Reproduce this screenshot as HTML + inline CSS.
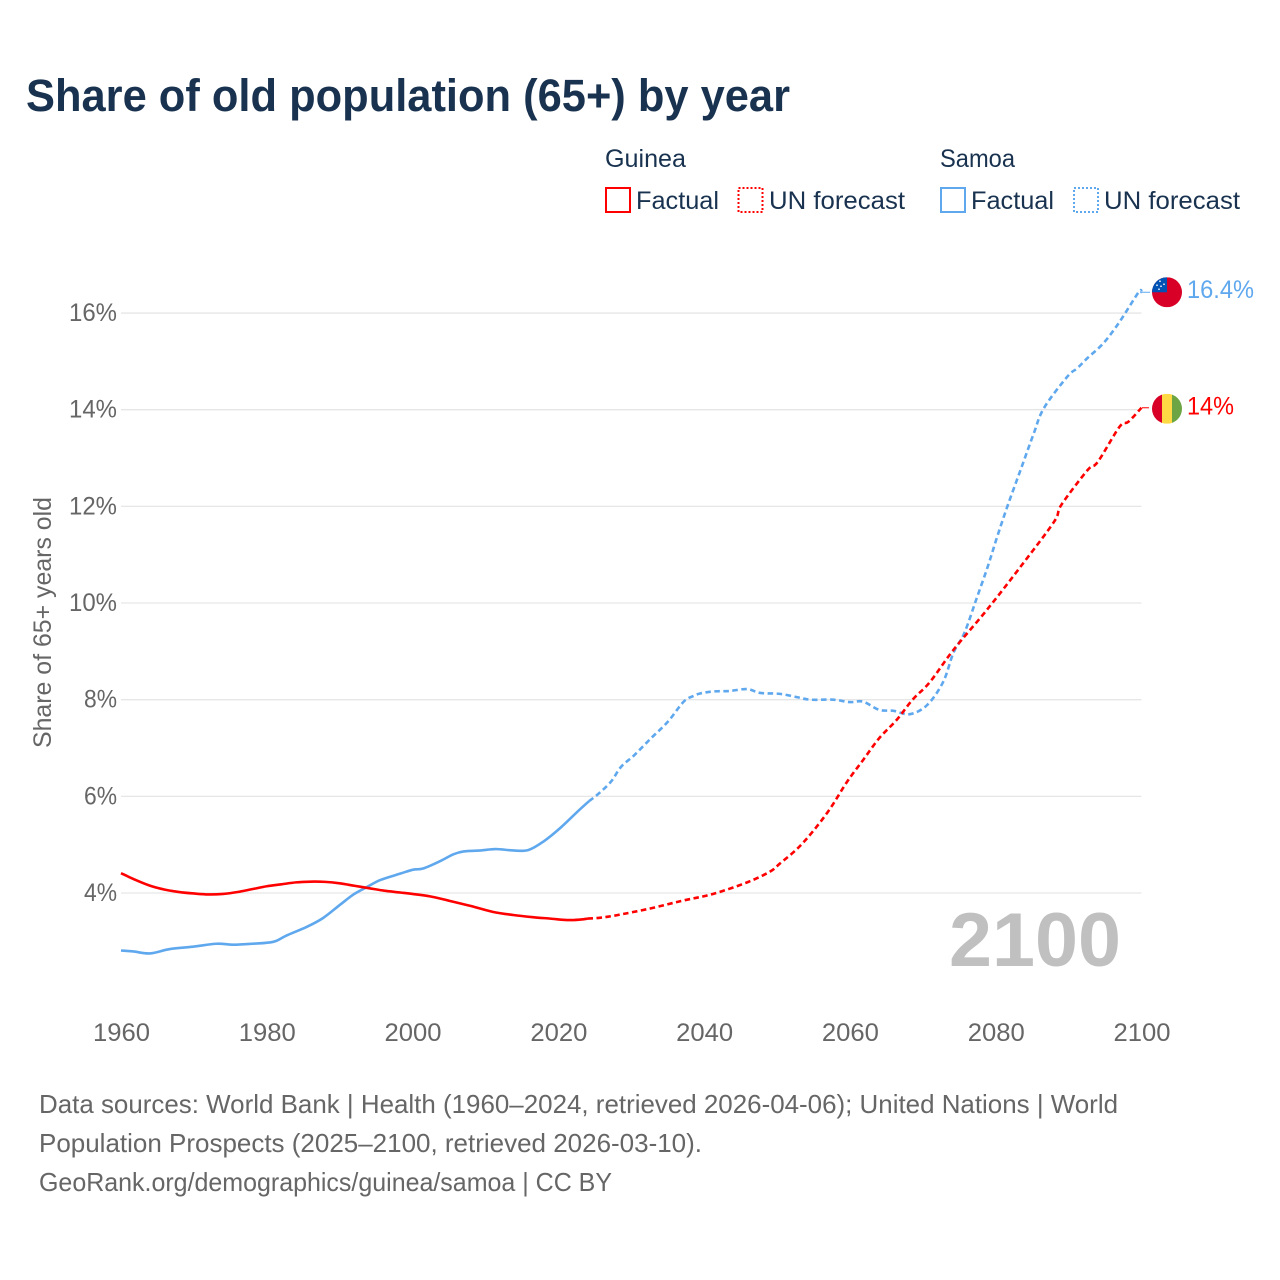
<!DOCTYPE html>
<html lang="en">
<head>
<meta charset="utf-8">
<title>Share of old population (65+) by year</title>
<style>
html,body{margin:0;padding:0;background:#fff;}
svg{display:block;font-family:"Liberation Sans",sans-serif;}
</style>
</head>
<body>
<svg id="chart" xmlns="http://www.w3.org/2000/svg" width="1280" height="1280" viewBox="0 0 1280 1280">
  <defs>
    <clipPath id="clip-samoa"><circle id="clip-samoa-circle" cx="0" cy="0" r="15"/></clipPath>
    <clipPath id="clip-guinea"><circle id="clip-guinea-circle" cx="0" cy="0" r="15"/></clipPath>
  </defs>
  <rect x="0" y="0" width="1280" height="1280" fill="#ffffff"/>
  <text x="26" y="111" font-size="45" font-weight="700" fill="#18324f" textLength="764" lengthAdjust="spacingAndGlyphs">Share of old population (65+) by year</text>

  <g>
    <text x="605" y="167" font-size="25" fill="#18324f" textLength="81" lengthAdjust="spacingAndGlyphs">Guinea</text>
    <rect x="606" y="188" width="24" height="24" fill="none" stroke="#ff0000" stroke-width="2"/>
    <text x="636" y="209" font-size="25" fill="#18324f" textLength="83" lengthAdjust="spacingAndGlyphs">Factual</text>
    <rect x="738.5" y="188" width="24" height="24" fill="none" stroke="#ff0000" stroke-width="2" stroke-dasharray="2 2"/>
    <text x="769" y="209" font-size="25" fill="#18324f" textLength="136" lengthAdjust="spacingAndGlyphs">UN forecast</text>

    <text x="940" y="167" font-size="25" fill="#18324f" textLength="75" lengthAdjust="spacingAndGlyphs">Samoa</text>
    <rect x="941" y="188" width="24" height="24" fill="none" stroke="#5fa8ee" stroke-width="2"/>
    <text x="971" y="209" font-size="25" fill="#18324f" textLength="83" lengthAdjust="spacingAndGlyphs">Factual</text>
    <rect x="1074" y="188" width="24" height="24" fill="none" stroke="#5fa8ee" stroke-width="2" stroke-dasharray="2 2"/>
    <text x="1104" y="209" font-size="25" fill="#18324f" textLength="136" lengthAdjust="spacingAndGlyphs">UN forecast</text>
  </g>

  <g id="grid"></g>
  <g id="y-ticks"></g>
  <g id="x-ticks"></g>

  <text transform="translate(51,622.5) rotate(-90)" text-anchor="middle" font-size="25" fill="#666666" textLength="251" lengthAdjust="spacingAndGlyphs">Share of 65+ years old</text>

  <text x="949" y="966" font-size="76" font-weight="700" fill="#c0c0c0" textLength="172" lengthAdjust="spacingAndGlyphs">2100</text>

  <g id="series"></g>
  <g id="endpoints"></g>

  <g>
    <text x="39" y="1113" font-size="26" fill="#666666" textLength="1079" lengthAdjust="spacingAndGlyphs">Data sources: World Bank | Health (1960–2024, retrieved 2026-04-06); United Nations | World</text>
    <text x="39" y="1152" font-size="26" fill="#666666" textLength="663" lengthAdjust="spacingAndGlyphs">Population Prospects (2025–2100, retrieved 2026-03-10).</text>
    <text x="39" y="1191" font-size="26" fill="#666666" textLength="573" lengthAdjust="spacingAndGlyphs">GeoRank.org/demographics/guinea/samoa | CC BY</text>
  </g>
</svg>
<script>
const xTicks = [1960, 1980, 2000, 2020, 2040, 2060, 2080, 2100];
const yTicks = [4, 6, 8, 10, 12, 14, 16];
const yTickLabels = ['4%', '6%', '8%', '10%', '12%', '14%', '16%'];

const guineaFactualYears = [1960, 1962, 1964, 1966, 1968, 1970, 1972, 1974, 1976, 1978, 1980, 1982, 1984, 1986, 1988, 1990, 1992, 1994, 1996, 1998.3, 2000, 2002.4, 2005, 2008, 2011, 2013.8, 2016.5, 2018.9, 2021.2, 2023, 2024];
const guineaFactualValues = [4.41, 4.27, 4.15, 4.07, 4.02, 3.99, 3.97, 3.98, 4.02, 4.08, 4.14, 4.18, 4.22, 4.235, 4.23, 4.2, 4.15, 4.1, 4.05, 4.01, 3.98, 3.93, 3.84, 3.73, 3.61, 3.545, 3.50, 3.47, 3.44, 3.45, 3.47];
const guineaForecastYears = [2024, 2025.8, 2028, 2032.6, 2037, 2041.2, 2045.9, 2049, 2050.4, 2052.8, 2055, 2057.3, 2059.6, 2061.8, 2064, 2066.4, 2068.6, 2071, 2074.2, 2078.8, 2083.4, 2088, 2089, 2092.6, 2094, 2097, 2098.2, 2100];
const guineaForecastValues = [3.47, 3.49, 3.54, 3.68, 3.84, 3.98, 4.22, 4.44, 4.61, 4.92, 5.29, 5.75, 6.30, 6.75, 7.2, 7.58, 8.0, 8.37, 9.03, 9.86, 10.75, 11.68, 12.03, 12.75, 12.92, 13.65, 13.75, 14.04];

const samoaFactualYears = [1960, 1961.7, 1964, 1966.7, 1969.9, 1973.1, 1975.4, 1978, 1980.9, 1982.7, 1985.5, 1987.7, 1990, 1991.9, 1993.7, 1995.6, 1998.3, 2000, 2001.5, 2003.8, 2005.6, 2007, 2009.3, 2011.4, 2013.8, 2015.9, 2018, 2020.3, 2022.6, 2024.2];
const samoaFactualValues = [2.81, 2.79, 2.75, 2.84, 2.89, 2.95, 2.93, 2.95, 2.99, 3.12, 3.30, 3.48, 3.75, 3.97, 4.12, 4.27, 4.40, 4.48, 4.51, 4.66, 4.80, 4.86, 4.88, 4.91, 4.88, 4.89, 5.07, 5.35, 5.68, 5.90];
const samoaForecastYears = [2024.2, 2025.4, 2027.2, 2028.6, 2030.4, 2032.7, 2035, 2037.2, 2038.6, 2039.5, 2041.2, 2043.5, 2045.9, 2047.7, 2050.4, 2052.8, 2054.6, 2057.7, 2060, 2061.8, 2064, 2066, 2068.2, 2070.6, 2072.8, 2074.2, 2075.7, 2077.3, 2078.9, 2080.2, 2081.6, 2083.4, 2085.2, 2086.6, 2089.8, 2091.2, 2092.6, 2094.8, 2097, 2099.6, 2100];
const samoaForecastValues = [5.90, 6.04, 6.30, 6.61, 6.85, 7.2, 7.54, 7.96, 8.08, 8.13, 8.17, 8.18, 8.22, 8.14, 8.12, 8.05, 8.0, 8.0, 7.95, 7.96, 7.79, 7.77, 7.70, 7.89, 8.37, 8.97, 9.38, 10.06, 10.75, 11.37, 12.0, 12.75, 13.5, 14.03, 14.68, 14.86, 15.07, 15.38, 15.82, 16.43, 16.43];

const guineaEndLabel = '14%';
const samoaEndLabel = '16.4%';

const NS = 'http://www.w3.org/2000/svg';
const RED = '#ff0000';
const BLUE = '#5fa8ee';

function xScale(year) { return 121 + (year - 1960) * (1020.5 / 140); }
function yScale(value) { return 893 - (value - 4) * 48.33; }

function make(tag, attrs, parent) {
  const el = document.createElementNS(NS, tag);
  for (const k in attrs) el.setAttribute(k, attrs[k]);
  parent.appendChild(el);
  return el;
}

/* smooth path through the data points (Catmull-Rom style curve) */
function linePath(years, values) {
  const pts = years.map(function (y, i) { return [xScale(y), yScale(values[i])]; });
  let d = 'M' + pts[0][0].toFixed(2) + ' ' + pts[0][1].toFixed(2);
  for (let i = 0; i < pts.length - 1; i++) {
    const p0 = pts[Math.max(i - 1, 0)];
    const p1 = pts[i];
    const p2 = pts[i + 1];
    const p3 = pts[Math.min(i + 2, pts.length - 1)];
    const k = 1 / 6;
    const c1x = p1[0] + (p2[0] - p0[0]) * k;
    const c1y = p1[1] + (p2[1] - p0[1]) * k;
    const c2x = p2[0] - (p3[0] - p1[0]) * k;
    const c2y = p2[1] - (p3[1] - p1[1]) * k;
    d += ' C' + c1x.toFixed(2) + ' ' + c1y.toFixed(2) + ' ' + c2x.toFixed(2) + ' ' + c2y.toFixed(2) + ' ' + p2[0].toFixed(2) + ' ' + p2[1].toFixed(2);
  }
  return d;
}

const gridG = document.getElementById('grid');
const yG = document.getElementById('y-ticks');
const xG = document.getElementById('x-ticks');
const seriesG = document.getElementById('series');
const endG = document.getElementById('endpoints');

yTicks.forEach(function (t, i) {
  const line = make('line', { x1: xScale(1960), x2: xScale(2100), y1: yScale(t), y2: yScale(t), stroke: '#e6e6e6', 'stroke-width': 1.3 }, gridG);
  
  
  const label = make('text', { x: 117, y: yScale(t) + 8, 'text-anchor': 'end', 'font-size': 25, fill: '#666666', textLength: yTickLabels[i].length === 2 ? 33 : 48, lengthAdjust: 'spacingAndGlyphs' }, yG);
  
  
  label.textContent = yTickLabels[i];
});

xTicks.forEach(function (t) {
  const label = make('text', { x: xScale(t) + 0.5, y: 1041, 'text-anchor': 'middle', 'font-size': 25, fill: '#666666', textLength: 57, lengthAdjust: 'spacingAndGlyphs' }, xG);
  
  
  label.textContent = String(t);
});

const samoaFact = make('path', { d: linePath(samoaFactualYears, samoaFactualValues), fill: 'none', stroke: BLUE, 'stroke-width': 2.6, 'stroke-linejoin': 'round' }, seriesG);


const samoaFc = make('path', { d: linePath(samoaForecastYears, samoaForecastValues), fill: 'none', stroke: BLUE, 'stroke-width': 2.6, 'stroke-dasharray': '5.5 3.5', 'stroke-linejoin': 'round' }, seriesG);


const guineaFact = make('path', { d: linePath(guineaFactualYears, guineaFactualValues), fill: 'none', stroke: RED, 'stroke-width': 2.6, 'stroke-linejoin': 'round' }, seriesG);


const guineaFc = make('path', { d: linePath(guineaForecastYears, guineaForecastValues), fill: 'none', stroke: RED, 'stroke-width': 2.6, 'stroke-dasharray': '5.5 3.5', 'stroke-linejoin': 'round' }, seriesG);



const samoaEndY = yScale(samoaForecastValues[samoaForecastValues.length - 1]);
const guineaEndY = yScale(guineaForecastValues[guineaForecastValues.length - 1]);

const samoaConn = make('line', { x1: 1141, x2: 1150, y1: samoaEndY, y2: samoaEndY, stroke: BLUE, 'stroke-width': 1 }, endG);


const guineaConn = make('line', { x1: 1142, x2: 1149, y1: guineaEndY, y2: guineaEndY, stroke: RED, 'stroke-width': 1 }, endG);



const samoaFlag = make('g', { transform: 'translate(1167,' + samoaEndY + ')', 'clip-path': 'url(#clip-samoa)' }, endG);


make('rect', { x: -15, y: -15, width: 30, height: 30, fill: '#d80027' }, samoaFlag);
make('rect', { x: -15, y: -15, width: 15, height: 15, fill: '#0052b4' }, samoaFlag);
[[-7, -11], [-3, -8], [-6, -6], [-10, -7], [-8, -3]].forEach(function (p) {
  make('circle', { cx: p[0], cy: p[1], r: 0.9, fill: '#e8eef8' }, samoaFlag);
});

const guineaFlag = make('g', { transform: 'translate(1167,' + (guineaEndY + 1) + ')', 'clip-path': 'url(#clip-guinea)' }, endG);


make('rect', { x: -15, y: -15, width: 10, height: 30, fill: '#d80027' }, guineaFlag);
make('rect', { x: -5, y: -15, width: 10, height: 30, fill: '#ffda44' }, guineaFlag);
make('rect', { x: 5, y: -15, width: 10, height: 30, fill: '#6da544' }, guineaFlag);

const samoaLabel = make('text', { x: 1187, y: samoaEndY + 5.5, 'font-size': 25, fill: BLUE, textLength: 67, lengthAdjust: 'spacingAndGlyphs' }, endG);


samoaLabel.textContent = samoaEndLabel;
const guineaLabel = make('text', { x: 1187, y: guineaEndY + 6.5, 'font-size': 25, fill: RED, textLength: 47, lengthAdjust: 'spacingAndGlyphs' }, endG);


guineaLabel.textContent = guineaEndLabel;
</script>
</body>
</html>
